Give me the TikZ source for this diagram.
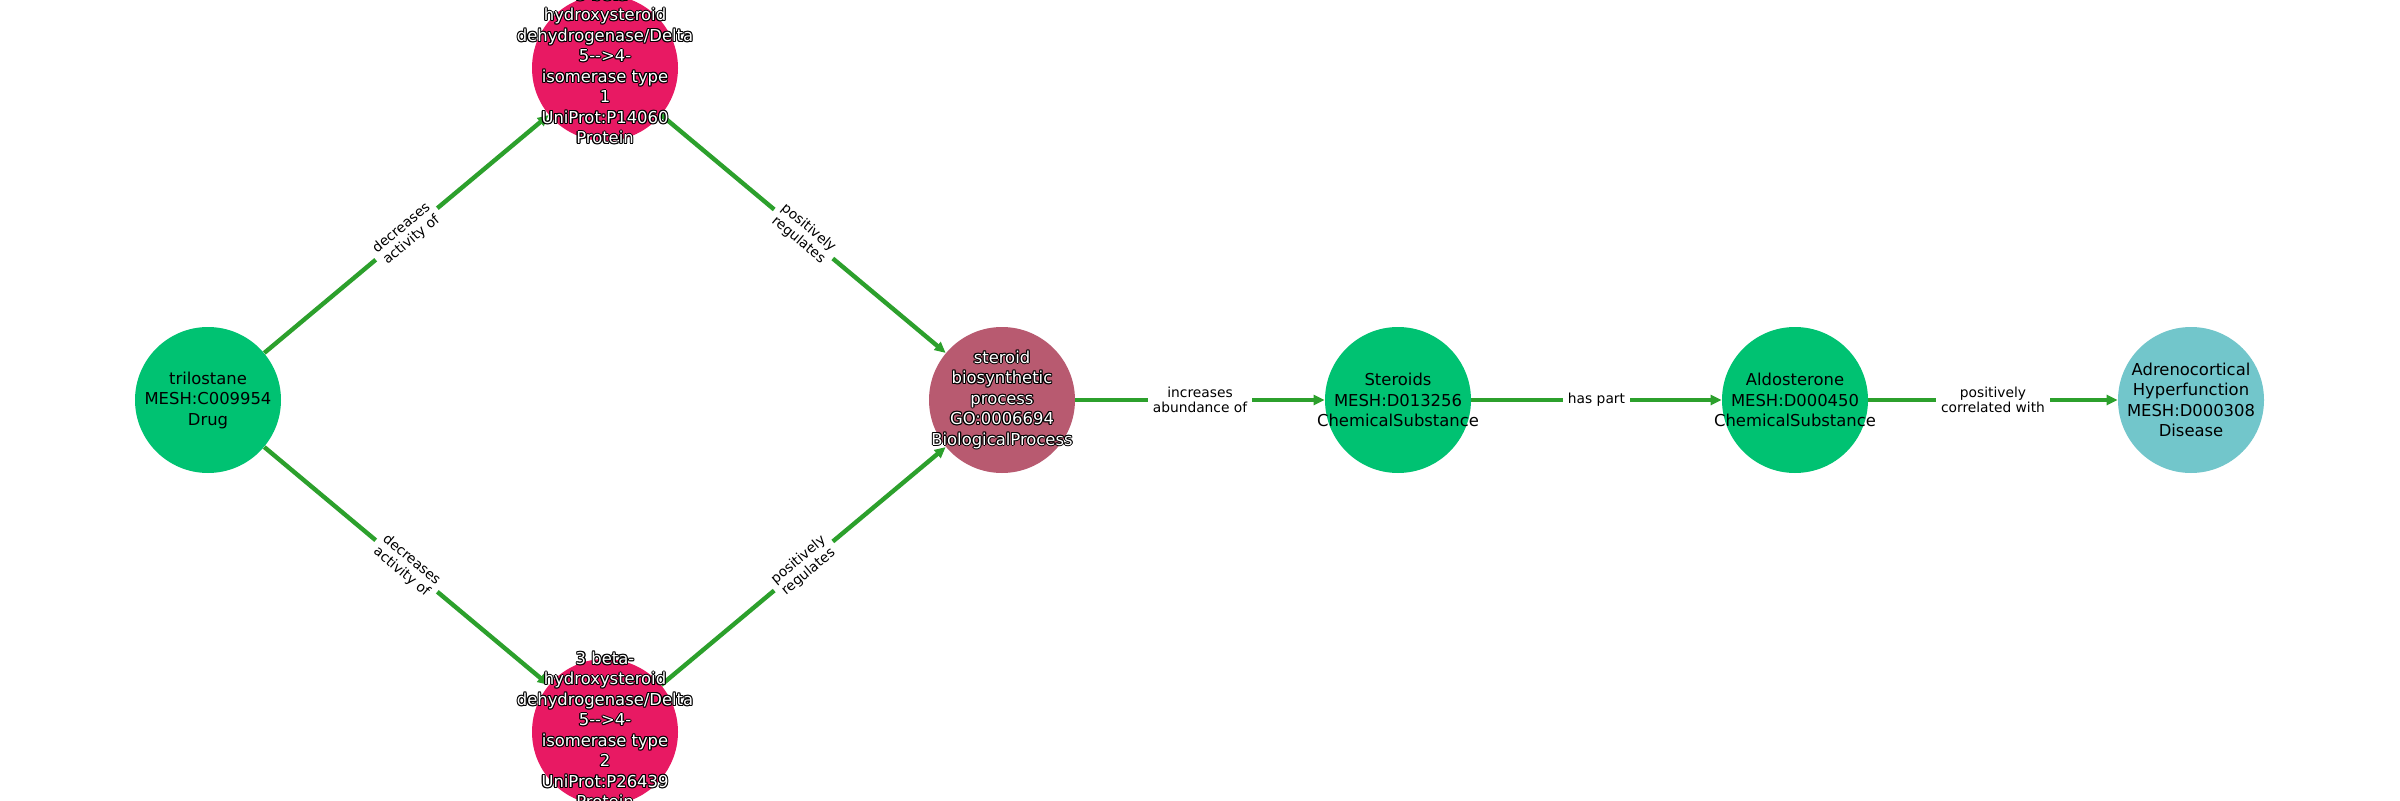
\documentclass[tikz,border=0pt]{standalone}
\usepackage{fontspec}
\setmainfont{DejaVu Sans}
\usetikzlibrary{arrows.meta}
\definecolor{chem}{RGB}{0,194,114}
\definecolor{prot}{RGB}{232,25,99}
\definecolor{bproc}{RGB}{184,90,112}
\definecolor{dis}{RGB}{114,198,203}
\definecolor{egreen}{RGB}{44,160,44}
\newcommand\olc[2]{\rlap{\kern#1\raise#2\hbox{\textcolor{black}{\copy0}}}}
\newcommand\olt[1]{\setbox0=\hbox{\begin{tabular}{@{}c@{}}#1\end{tabular}}%
\hbox{\olc{-.55pt}{0pt}\olc{.55pt}{0pt}\olc{0pt}{.55pt}\olc{0pt}{-.55pt}%
\olc{-.4pt}{-.4pt}\olc{.4pt}{.4pt}\olc{-.4pt}{.4pt}\olc{.4pt}{-.4pt}%
\textcolor{white}{\copy0}}}
\tikzset{
  circ/.style={circle, minimum size=73pt, inner sep=0pt, draw=none},
  ntext/.style={align=center, font=\fontsize{8.2}{10.25}\selectfont, inner sep=0pt, text=black},
  otext/.style={font=\fontsize{8.2}{10.25}\selectfont, inner sep=0pt},
  edge/.style={draw=egreen, line width=2.2pt, -{Triangle[length=5.5pt,width=5pt]}},
  elabel/.style={midway, sloped, fill=white, align=center, font=\fontsize{6.9}{7.8}\selectfont, inner sep=2.5pt, text=black}
}
\begin{document}
\begin{tikzpicture}[x=1pt,y=1pt]
\useasboundingbox[fill=white] (0,0) rectangle (1200,400);
% circles
\node[circ, fill=chem] (tri) at (104,200) {};
\node[circ, fill=prot] (p1) at (302.5,366) {};
\node[circ, fill=prot] (p2) at (302.5,34) {};
\node[circ, fill=bproc] (bp) at (501,200) {};
\node[circ, fill=chem] (ster) at (699,200) {};
\node[circ, fill=chem] (aldo) at (897.5,200) {};
\node[circ, fill=dis] (adr) at (1095.5,200) {};
% edges
\draw[edge] (tri) -- node[elabel] (l1) {decreases\\activity of} (p1);
\draw[edge] (tri) -- node[elabel] (l2) {decreases\\activity of} (p2);
\draw[edge] (p1) -- node[elabel] (l3) {positively\\regulates} (bp);
\draw[edge] (p2) -- node[elabel] (l4) {positively\\regulates} (bp);
\draw[edge] (bp) -- node[elabel] (l5) {increases\\abundance of} (ster);
\draw[edge] (ster) -- node[elabel] (l6) {has part} (aldo);
\draw[edge] (aldo) -- node[elabel] (l7) {positively\\correlated with} (adr);
% texts
\node[ntext] (trit) at (tri) {trilostane\\MESH:C009954\\Drug};
\node[otext] (p1t) at (p1) {\olt{3 beta-\\hydroxysteroid\\dehydrogenase/Delta\\5-{}-{}>4-\\isomerase type\\1\\UniProt:P14060\\Protein}};
\node[otext] (p2t) at (p2) {\olt{3 beta-\\hydroxysteroid\\dehydrogenase/Delta\\5-{}-{}>4-\\isomerase type\\2\\UniProt:P26439\\Protein}};
\node[otext] (bpt) at (bp) {\olt{steroid\\biosynthetic\\process\\GO:0006694\\BiologicalProcess}};
\node[ntext] (stert) at (ster) {Steroids\\MESH:D013256\\ChemicalSubstance};
\node[ntext] (aldot) at (aldo) {Aldosterone\\MESH:D000450\\ChemicalSubstance};
\node[ntext] (adrt) at (adr) {Adrenocortical\\Hyperfunction\\MESH:D000308\\Disease};
\end{tikzpicture}
\end{document}
